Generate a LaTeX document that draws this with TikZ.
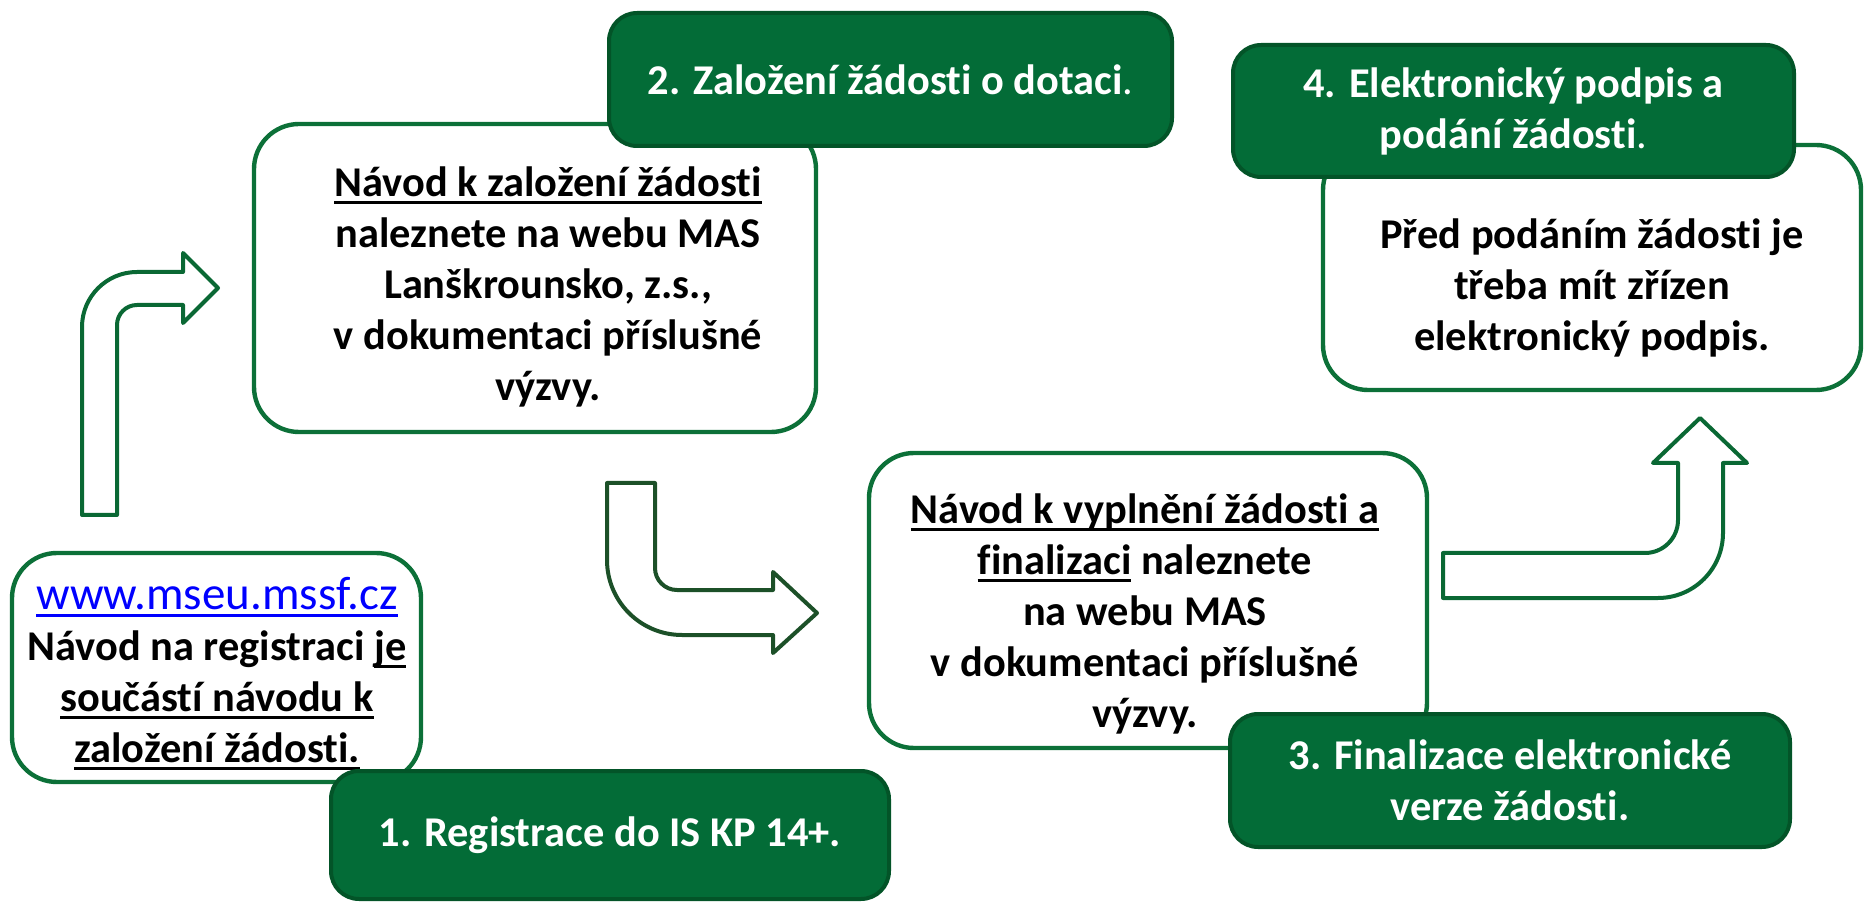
\documentclass[tikz,border=0pt]{standalone}
\usepackage{fontspec}
\setmainfont{Carlito}[Ligatures=NoCommon]
\definecolor{stepgreen}{RGB}{3,108,55}
\definecolor{stepedge}{RGB}{3,84,40}
\definecolor{boxedge}{RGB}{12,112,56}
\definecolor{arrowedge}{RGB}{10,104,52}
\definecolor{arrowdark}{RGB}{28,80,40}
\definecolor{linkblue}{RGB}{0,0,255}
\newcommand{\bodyfont}{\bfseries\fontsize{21.2}{25.5}\selectfont}
\newsavebox{\undrbox}
\newcommand{\undr}[1]{\sbox\undrbox{#1}\rlap{\rule[-3.6pt]{\wd\undrbox}{1.2pt}}\usebox\undrbox}

\begin{document}
\begin{tikzpicture}[
  x=0.5pt, y=-0.5pt,
  infobox/.style={draw=boxedge, line width=2.2pt, fill=white,
                  rounded corners=22.5pt, inner sep=0pt},
  infotext/.style={align=center, font=\bodyfont, inner sep=0pt},
  stepbox/.style={draw=stepedge, line width=2pt, fill=stepgreen,
                  rounded corners=14pt, text=white, align=center,
                  inner sep=0pt, font=\bodyfont},
  bent/.style={draw=arrowedge, line width=2pt, fill=white, line join=round}
]
  \useasboundingbox (0,0) rectangle (1864,903);

  % bent block arrows between the steps
  \draw[bent] (82,515) -- (82,327) arc[start angle=180, end angle=270, radius=55]
    -- (183,272) -- (183,253) -- (218,288) -- (183,323) -- (183,305) -- (137,305)
    arc[start angle=270, end angle=180, radius=20] -- (117,515) -- cycle;
  \draw[bent, draw=arrowdark] (607,483) -- (607,560) arc[start angle=180, end angle=90, radius=75]
    -- (773,635) -- (773,653) -- (817,613) -- (773,572) -- (773,590) -- (677,590)
    arc[start angle=90, end angle=180, radius=22] -- (655,483) -- cycle;
  \draw[bent] (1443,553) -- (1645,553) arc[start angle=90, end angle=0, radius=33]
    -- (1678,463) -- (1653,463) -- (1700,418) -- (1747,463) -- (1723,463) -- (1723,533)
    arc[start angle=0, end angle=90, radius=65] -- (1443,598) -- cycle;

  % white boxes with the instructions
  \node[infobox, minimum width=204.5pt, minimum height=114.5pt] (web) at (216.5,667.5) {};
  \node[infotext] (webtxt) at (217,673.5)
    {{\mdseries\fontsize{23.5}{25.5}\selectfont\color{linkblue}\undr{www.mseu.mssf.cz}}\\
     Návod na registraci \undr{je}\\
     \undr{součástí návodu k}\\
     \undr{založení žádosti.}};

  \node[infobox, minimum width=281pt, minimum height=154pt] (guide) at (535,278) {};
  \node[infotext] (guidetxt) at (548,287)
    {\undr{Návod k založení žádosti}\\
     naleznete na webu MAS\\
     Lanškrounsko, z.s.,\\
     v dokumentaci příslušné\\
     výzvy.};

  \node[infobox, minimum width=279pt, minimum height=147.5pt] (form) at (1148,600.5) {};
  \node[infotext] (formtxt) at (1145,614)
    {\undr{Návod k vyplnění žádosti a}\\
     \undr{finalizaci} naleznete\\
     na webu MAS\\
     v dokumentaci příslušné\\
     výzvy.};

  \node[infobox, minimum width=269pt, minimum height=122.5pt] (sign) at (1592,267.5) {};
  \node[infotext] (signtxt) at (1592,287.5)
    {Před podáním žádosti je\\
     třeba mít zřízen\\
     elektronický podpis.};

  % green step labels on top
  \node[stepbox, minimum width=279pt, minimum height=64pt] (reg) at (610,835)
    {1. Registrace do IS KP 14+.};
  \node[stepbox, minimum width=281.5pt, minimum height=66.5pt] (apply) at (890.5,79.5)
    {2. Založení žádosti o dotaci{\mdseries .}};
  \node[stepbox, minimum width=280pt, minimum height=66.5pt] (final) at (1510,780.5)
    {3. Finalizace elektronické\\verze žádosti.};
  \node[stepbox, minimum width=280.5pt, minimum height=66pt] (submit) at (1513.5,111)
    {4. Elektronický podpis a\\podání žádosti{\mdseries .}};
\end{tikzpicture}
\end{document}
